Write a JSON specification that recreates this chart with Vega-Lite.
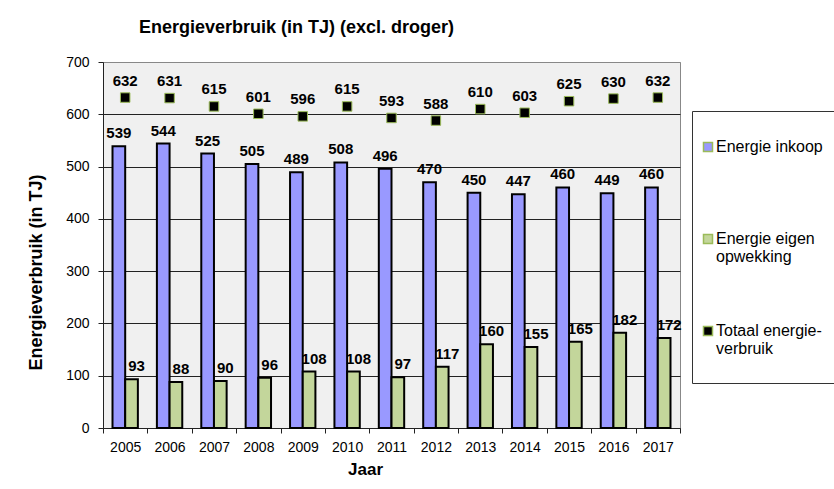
{
  "$schema": "https://vega.github.io/schema/vega-lite/v6.json",
  "width": 577,
  "height": 366,
  "autosize": {"type": "none"},
  "padding": {"left": 103, "top": 62, "right": 154, "bottom": 61},
  "background": "white",
  "title": {"text": "Energieverbruik (in TJ) (excl. droger)", "anchor": "start", "frame": "group", "dx": 36, "offset": 18, "fontSize": 18, "font": "Liberation Sans", "fontWeight": "bold", "color": "black"},
  "data": {"values": [
    {"jaar": "2005", "reeks": "Energie inkoop", "waarde": 539},
    {"jaar": "2006", "reeks": "Energie inkoop", "waarde": 544},
    {"jaar": "2007", "reeks": "Energie inkoop", "waarde": 525},
    {"jaar": "2008", "reeks": "Energie inkoop", "waarde": 505},
    {"jaar": "2009", "reeks": "Energie inkoop", "waarde": 489},
    {"jaar": "2010", "reeks": "Energie inkoop", "waarde": 508},
    {"jaar": "2011", "reeks": "Energie inkoop", "waarde": 496},
    {"jaar": "2012", "reeks": "Energie inkoop", "waarde": 470},
    {"jaar": "2013", "reeks": "Energie inkoop", "waarde": 450},
    {"jaar": "2014", "reeks": "Energie inkoop", "waarde": 447},
    {"jaar": "2015", "reeks": "Energie inkoop", "waarde": 460},
    {"jaar": "2016", "reeks": "Energie inkoop", "waarde": 449},
    {"jaar": "2017", "reeks": "Energie inkoop", "waarde": 460},
    {"jaar": "2005", "reeks": "Energie eigen opwekking", "waarde": 93},
    {"jaar": "2006", "reeks": "Energie eigen opwekking", "waarde": 88},
    {"jaar": "2007", "reeks": "Energie eigen opwekking", "waarde": 90},
    {"jaar": "2008", "reeks": "Energie eigen opwekking", "waarde": 96},
    {"jaar": "2009", "reeks": "Energie eigen opwekking", "waarde": 108},
    {"jaar": "2010", "reeks": "Energie eigen opwekking", "waarde": 108},
    {"jaar": "2011", "reeks": "Energie eigen opwekking", "waarde": 97},
    {"jaar": "2012", "reeks": "Energie eigen opwekking", "waarde": 117},
    {"jaar": "2013", "reeks": "Energie eigen opwekking", "waarde": 160},
    {"jaar": "2014", "reeks": "Energie eigen opwekking", "waarde": 155},
    {"jaar": "2015", "reeks": "Energie eigen opwekking", "waarde": 165},
    {"jaar": "2016", "reeks": "Energie eigen opwekking", "waarde": 182},
    {"jaar": "2017", "reeks": "Energie eigen opwekking", "waarde": 172},
    {"jaar": "2005", "reeks": "Totaal energieverbruik", "waarde": 632},
    {"jaar": "2006", "reeks": "Totaal energieverbruik", "waarde": 631},
    {"jaar": "2007", "reeks": "Totaal energieverbruik", "waarde": 615},
    {"jaar": "2008", "reeks": "Totaal energieverbruik", "waarde": 601},
    {"jaar": "2009", "reeks": "Totaal energieverbruik", "waarde": 596},
    {"jaar": "2010", "reeks": "Totaal energieverbruik", "waarde": 615},
    {"jaar": "2011", "reeks": "Totaal energieverbruik", "waarde": 593},
    {"jaar": "2012", "reeks": "Totaal energieverbruik", "waarde": 588},
    {"jaar": "2013", "reeks": "Totaal energieverbruik", "waarde": 610},
    {"jaar": "2014", "reeks": "Totaal energieverbruik", "waarde": 603},
    {"jaar": "2015", "reeks": "Totaal energieverbruik", "waarde": 625},
    {"jaar": "2016", "reeks": "Totaal energieverbruik", "waarde": 630},
    {"jaar": "2017", "reeks": "Totaal energieverbruik", "waarde": 632}
  ]},
  "encoding": {
    "x": {"field": "jaar", "type": "nominal", "scale": {"paddingInner": 0, "paddingOuter": 0},
      "axis": {"title": "Jaar", "labelAngle": 0, "tickBand": "extent", "tickSize": 5, "labelPadding": 7, "labelFontSize": 14, "labelColor": "black", "labelFont": "Liberation Sans", "titleFont": "Liberation Sans", "titleFontSize": 17, "titleFontWeight": "bold", "titleColor": "black", "titleX": 262, "titleY": 33, "titleAlign": "center", "titleBaseline": "top", "domainColor": "#222", "tickColor": "#222", "domainWidth": 1}},
    "y": {"field": "waarde", "type": "quantitative", "scale": {"domain": [0, 700], "nice": false},
      "axis": {"title": "Energieverbruik (in TJ)", "values": [0, 100, 200, 300, 400, 500, 600, 700], "grid": true, "gridColor": {"condition": {"test": "datum.value == 700", "value": "#888888"}, "value": "#222222"}, "gridWidth": 1, "domainColor": "#222", "tickColor": "#222", "tickSize": 5, "labelPadding": 9, "labelFontSize": 14, "labelColor": "black", "labelFont": "Liberation Sans", "titleFont": "Liberation Sans", "titleFontSize": 18, "titleFontWeight": "bold", "titleColor": "black", "titleX": -62, "titleY": 210, "titleAngle": 270, "titleBaseline": "alphabetic", "titleAlign": "center"}}
  },
  "layer": [
    {
      "transform": [{"filter": "datum.reeks != 'Totaal energieverbruik'"}],
      "mark": {"type": "bar", "stroke": "black", "strokeWidth": 2, "strokeOpacity": 1},
      "encoding": {
        "xOffset": {"field": "reeks", "type": "nominal", "sort": ["Energie inkoop", "Energie eigen opwekking"], "scale": {"paddingInner": 0, "paddingOuter": 0.75}},
        "fill": {"field": "reeks", "type": "nominal",
          "scale": {"domain": ["Energie inkoop", "Energie eigen opwekking", "Totaal energieverbruik"], "range": ["#9999ff", "#c3d69b", "#000000"]},
          "legend": {"title": "_______________________", "titleColor": "white", "titleFontSize": 10, "titlePadding": 10, "orient": "none", "legendX": 589, "legendY": 49, "symbolType": "square", "symbolSize": 81, "symbolStrokeColor": "black", "symbolStrokeWidth": 1.5, "labelFont": "Liberation Sans", "labelFontSize": 16, "labelColor": "black", "labelBaseline": "middle", "labelOffset": 0, "labelLimit": 300, "rowPadding": 58, "padding": 8, "strokeColor": "#333333", "fillColor": "white",
            "labelExpr": "datum.label == 'Energie inkoop' ? ['Energie inkoop', ''] : datum.label == 'Energie eigen opwekking' ? ['Energie eigen', 'opwekking'] : ['Totaal energie-', 'verbruik', '']"}
        }
      }
    },
    {
      "transform": [{"filter": "datum.reeks == 'Totaal energieverbruik'"}],
      "mark": {"type": "point", "shape": "square", "filled": true, "size": 90, "stroke": "#9bbb59", "strokeWidth": 1, "opacity": 1},
      "encoding": {
        "fill": {"field": "reeks", "type": "nominal"}
      }
    },
    {
      "transform": [{"filter": "datum.reeks == 'Energie inkoop'"}],
      "mark": {"type": "text", "baseline": "alphabetic", "dy": -8, "fontSize": 15, "fontWeight": "bold", "font": "Liberation Sans", "color": "black"},
      "encoding": {
        "xOffset": {"field": "reeks", "type": "nominal", "sort": ["Energie inkoop", "Energie eigen opwekking"]},
        "text": {"field": "waarde", "type": "quantitative"}
      }
    },
    {
      "transform": [{"filter": "datum.reeks == 'Energie eigen opwekking'"}],
      "mark": {"type": "text", "baseline": "alphabetic", "dy": -8, "dx": 5, "fontSize": 15, "fontWeight": "bold", "font": "Liberation Sans", "color": "black"},
      "encoding": {
        "xOffset": {"field": "reeks", "type": "nominal", "sort": ["Energie inkoop", "Energie eigen opwekking"]},
        "text": {"field": "waarde", "type": "quantitative"}
      }
    },
    {
      "transform": [{"filter": "datum.reeks == 'Totaal energieverbruik'"}],
      "mark": {"type": "text", "baseline": "alphabetic", "dy": -12, "fontSize": 15, "fontWeight": "bold", "font": "Liberation Sans", "color": "black"},
      "encoding": {
        "text": {"field": "waarde", "type": "quantitative"}
      }
    }
  ],
  "config": {"view": {"fill": "#f0f0f0", "stroke": "#888888"}, "font": "Liberation Sans"}
}
